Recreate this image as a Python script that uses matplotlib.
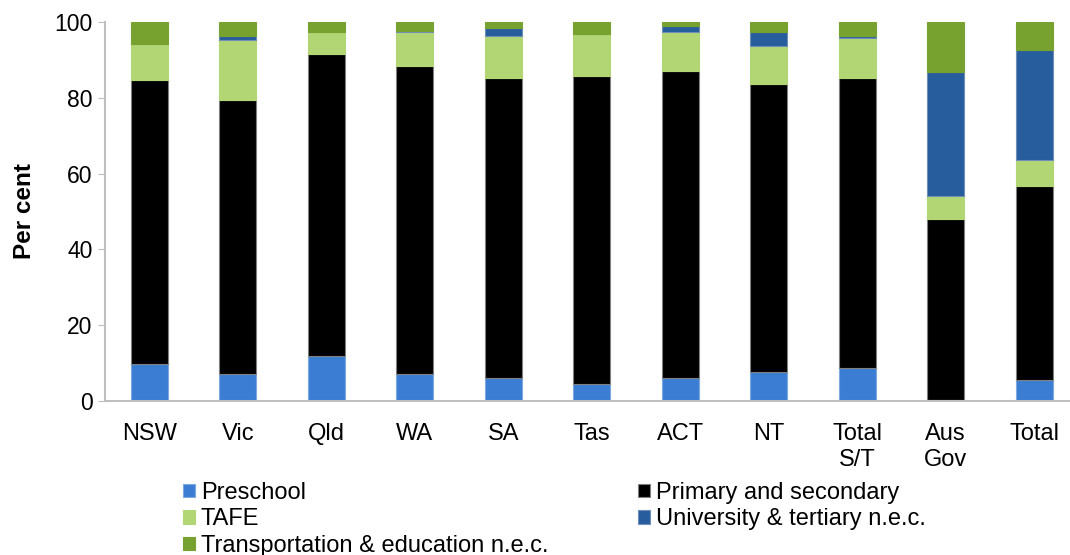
import matplotlib
matplotlib.use("Agg")
import matplotlib.pyplot as plt
import numpy as np

plt.rcParams['font.family'] = ['Liberation Sans', 'DejaVu Sans']

categories = ["NSW", "Vic", "Qld", "WA", "SA", "Tas", "ACT", "NT", "Total\nS/T", "Aus\nGov", "Total"]
preschool = [9.8, 7.0, 11.9, 7.0, 6.0, 4.4, 6.0, 7.6, 8.6, 0.3, 5.5]
primary_secondary = [74.9, 72.4, 79.7, 81.4, 79.1, 81.4, 81.2, 76.0, 76.6, 47.7, 51.2]
tafe = [9.5, 15.9, 5.8, 8.9, 11.1, 11.0, 10.1, 10.0, 10.6, 6.1, 7.0]
university = [0.0, 1.1, 0.0, 0.2, 2.1, 0.0, 1.6, 3.8, 0.5, 32.7, 28.9]
transport = [5.8, 3.6, 2.6, 2.5, 1.7, 3.2, 1.1, 2.6, 3.7, 13.2, 7.4]

series = [
    ("Preschool", preschool, "#3A7DD2", "#7FA9E0"),
    ("Primary and secondary", primary_secondary, "#000000", "#808080"),
    ("TAFE", tafe, "#B3D675", "#B3D675"),
    ("University & tertiary n.e.c.", university, "#275D9C", "#6F8FBA"),
    ("Transportation & education n.e.c.", transport, "#78A22F", "#78A22F"),
]

fig = plt.figure(figsize=(10.7, 5.55), dpi=100)
ax = fig.add_axes([105/1070, (555-401)/555, (1078.5-105)/1070, 379/555])

x = np.arange(len(categories))
bottom = np.zeros(len(categories))
handles = {}
for name, vals, col, ec in series:
    v = np.array(vals)
    b = ax.bar(x, v, width=0.42, bottom=bottom, color=col, edgecolor=ec, linewidth=0.8, label=name, zorder=2)
    handles[name] = b
    bottom += v

ax.set_xlim(-0.5, 10.5)
ax.set_ylim(0, 100)
ax.set_yticks([0, 20, 40, 60, 80, 100])
ax.set_xticks(x)
ax.set_xticklabels(categories, fontsize=17, linespacing=1.27)
ax.tick_params(axis='y', labelsize=16.5, length=5, color='#BFBFBF', pad=4)
ax.tick_params(axis='x', length=0, pad=15.5)
for s in ['top', 'right']:
    ax.spines[s].set_visible(False)
for s in ['left', 'bottom']:
    ax.spines[s].set_color('#BFBFBF')
    ax.spines[s].set_linewidth(1.5)
ax.set_ylabel("Per cent", fontsize=17.5, fontweight='bold', labelpad=13)

order = ["Preschool", "TAFE", "Transportation & education n.e.c.", "Primary and secondary", "University & tertiary n.e.c."]
leg = fig.legend([handles[n] for n in order], order, loc='upper left',
                 bbox_to_anchor=(183/1070, 1 - 482/555), ncol=2, frameon=False,
                 fontsize=17, handlelength=0.5, handleheight=0.5, handletextpad=0.25,
                 columnspacing=3.8, labelspacing=0.19, borderpad=0, borderaxespad=0)

fig.savefig("out.png", dpi=100)
